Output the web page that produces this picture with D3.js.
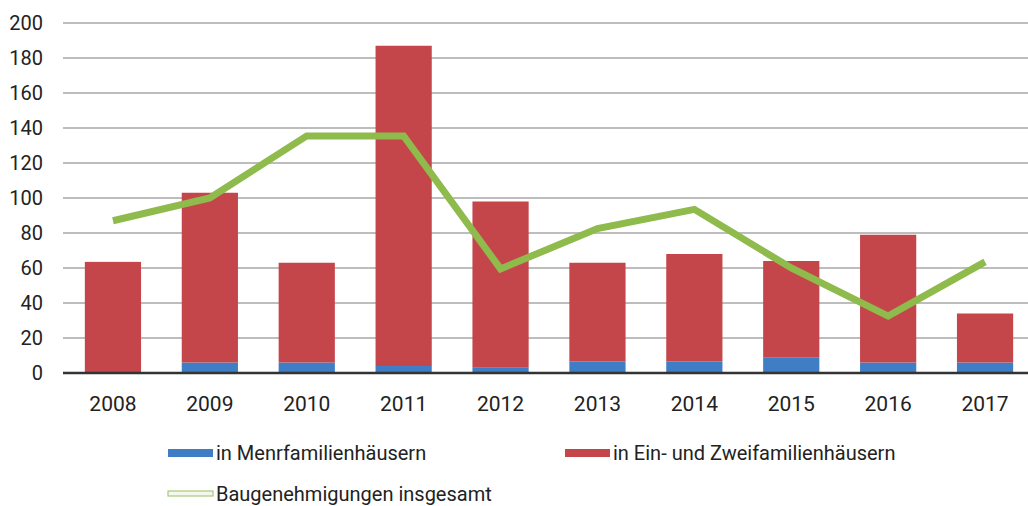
<!DOCTYPE html>
<html>
<head>
<meta charset="utf-8">
<script src="https://cdn.jsdelivr.net/npm/d3@7"></script>
<style>
  body { margin: 0; background: #fff; }
  text { font-family: "Roboto", "Liberation Sans", sans-serif; fill: #222; }
</style>
</head>
<body>
<div id="chart"></div>
<script>
const years = ['2008', '2009', '2010', '2011', '2012', '2013', '2014', '2015', '2016', '2017'];
const mehrfamilien = [0, 6, 6, 4, 3, 6.5, 6.5, 9, 6, 6];
const einZwei = [63.5, 97, 57, 183, 95, 56.5, 61.5, 55, 73, 28];
const insgesamt = [87, 100, 135.5, 135.5, 59.5, 82.5, 93.5, 60, 32.5, 63.5];
const yTicks = [0, 20, 40, 60, 80, 100, 120, 140, 160, 180, 200];

const width = 1028, height = 506;
const svg = d3.select('#chart').append('svg')
  .attr('width', width)
  .attr('height', height);

const x = d3.scaleBand().domain(years).range([64.5, 1033.5]).paddingInner(0.42).paddingOuter(0.21);
const y = d3.scaleLinear().domain([0, 200]).range([373, 23]);

// grid lines
svg.append('g')
  .selectAll('line')
  .data(yTicks.slice(1))
  .enter()
  .append('line')
  .attr('x1', 63).attr('x2', width)
  .attr('y1', d => y(d)).attr('y2', d => y(d))
  .attr('stroke', '#bdbdbd').attr('stroke-width', 2);

// y labels
svg.append('g')
  .selectAll('text')
  .data(yTicks)
  .enter()
  .append('text')
  .attr('x', 43)
  .attr('y', d => y(d))
  .attr('dy', '0.35em')
  .attr('text-anchor', 'end')
  .style('font-size', '20px')
  .text(d => d);

// stacked bars
const rows = years.map((yr, i) => ({ year: yr, blue: mehrfamilien[i], red: einZwei[i] }));
const stack = d3.stack().keys(['blue', 'red'])(rows);
const colors = { blue: '#3f7dc4', red: '#c4464a' };

svg.append('g')
  .selectAll('g')
  .data(stack)
  .enter()
  .append('g')
  .attr('fill', d => colors[d.key])
  .selectAll('rect')
  .data(d => d)
  .enter()
  .append('rect')
  .attr('x', d => x(d.data.year))
  .attr('width', x.bandwidth())
  .attr('y', d => y(d[1]))
  .attr('height', d => y(d[0]) - y(d[1]));

// baseline
svg.append('line')
  .attr('x1', 63).attr('x2', width)
  .attr('y1', y(0)).attr('y2', y(0))
  .attr('stroke', '#333').attr('stroke-width', 2.5);

// x labels
svg.append('g')
  .selectAll('text')
  .data(years)
  .enter()
  .append('text')
  .attr('x', d => x(d) + x.bandwidth() / 2)
  .attr('y', 404)
  .attr('dy', '0.35em')
  .attr('text-anchor', 'middle')
  .style('font-size', '21px')
  .text(d => d);

// total line
const line = d3.line()
  .x((d, i) => x(years[i]) + x.bandwidth() / 2)
  .y(d => y(d));

svg.append('path')
  .datum(insgesamt)
  .attr('d', line)
  .attr('fill', 'none')
  .attr('stroke', '#8fba4c')
  .attr('stroke-width', 7)
  .attr('stroke-linejoin', 'miter');

// legend
const legend = [
  { label: 'in Menrfamilienhäusern', x: 168, y: 453, kind: 'bar', color: colors.blue },
  { label: 'in Ein- und Zweifamilienhäusern', x: 565, y: 453, kind: 'bar', color: colors.red },
  { label: 'Baugenehmigungen insgesamt', x: 168, y: 494, kind: 'line', color: '#a9c97a' }
];

const lg = svg.append('g')
  .selectAll('g')
  .data(legend)
  .enter()
  .append('g')
  .attr('transform', d => `translate(${d.x},${d.y})`);

lg.append('rect')
  .attr('x', 0).attr('y', d => d.kind === 'bar' ? -4 : -3)
  .attr('width', 45).attr('height', d => d.kind === 'bar' ? 8 : 5)
  .attr('fill', d => d.kind === 'bar' ? d.color : '#f4f8ec')
  .attr('stroke', d => d.kind === 'bar' ? 'none' : d.color)
  .attr('stroke-width', 1.2);

lg.append('text')
  .attr('x', 48)
  .attr('dy', '0.35em')
  .style('font-size', '20px')
  .text(d => d.label);
</script>
</body>
</html>
